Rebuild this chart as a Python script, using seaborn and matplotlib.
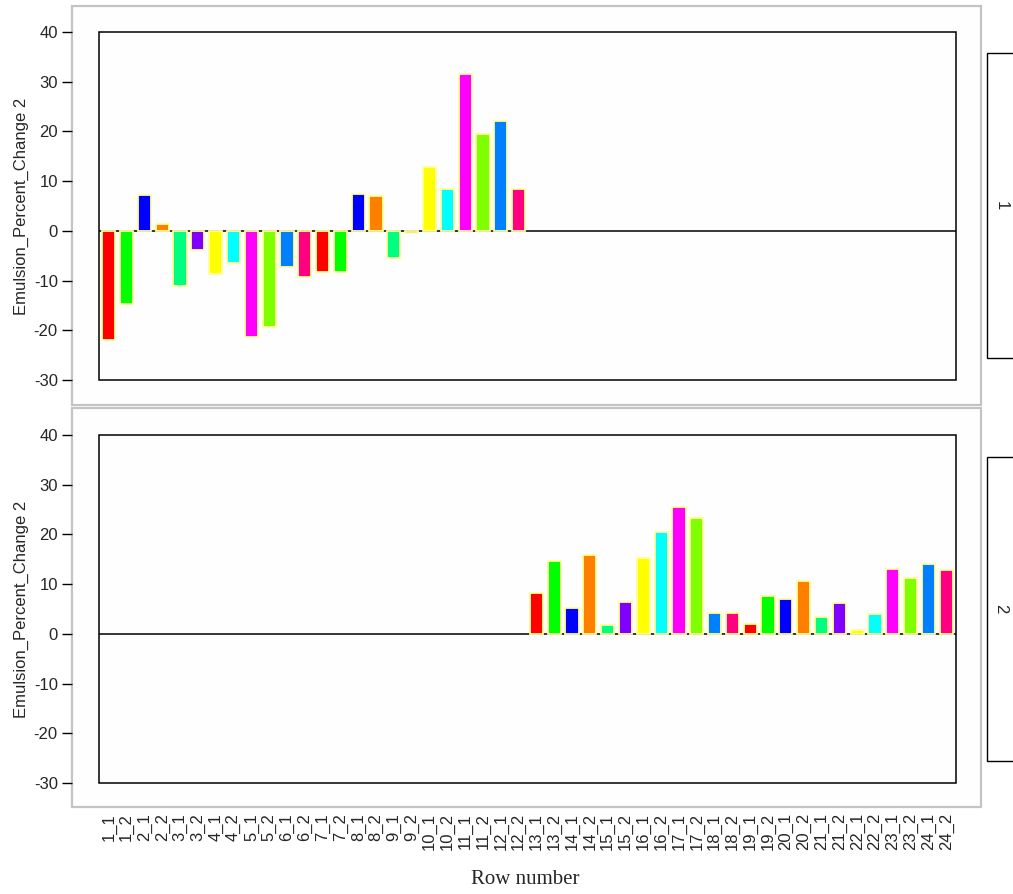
import matplotlib
matplotlib.use("Agg")
import matplotlib.pyplot as plt
from matplotlib.patches import Rectangle
import pandas as pd
import seaborn as sns

# row labels (x categories)
row_labels = [
    "1_1", "1_2", "2_1", "2_2", "3_1", "3_2", "4_1", "4_2", "5_1", "5_2", "6_1", "6_2",
    "7_1", "7_2", "8_1", "8_2", "9_1", "9_2", "10_1", "10_2", "11_1", "11_2", "12_1", "12_2",
    "13_1", "13_2", "14_1", "14_2", "15_1", "15_2", "16_1", "16_2", "17_1", "17_2", "18_1", "18_2",
    "19_1", "19_2", "20_1", "20_2", "21_1", "21_2", "22_1", "22_2", "23_1", "23_2", "24_1", "24_2",
]

# panel 1 -> rows 1..12, panel 2 -> rows 13..24
panel1_rows = row_labels[:24]
panel1_values = [-22.0, -14.7, 7.2, 1.4, -11.1, -3.8, -8.7, -6.5, -21.3, -19.4, -7.3, -9.3,
                 -8.3, -8.3, 7.4, 7.1, -5.4, -0.4, 12.9, 8.4, 31.6, 19.5, 22.1, 8.4]
panel2_rows = row_labels[24:]
panel2_values = [8.3, 14.7, 5.2, 15.8, 1.7, 6.4, 15.2, 20.5, 25.6, 23.3, 4.2, 4.2,
                 2.0, 7.7, 7.0, 10.7, 3.3, 6.2, 0.8, 4.0, 13.1, 11.2, 14.1, 12.8]

panel_names = ["1", "2"]
y_ticks = [-30, -20, -10, 0, 10, 20, 30, 40]

bar_colours = ["#FF0000", "#00FF00", "#0000FF", "#FF8000", "#00FF80", "#8000FF",
               "#FFFF00", "#00FFFF", "#FF00FF", "#80FF00", "#0080FF", "#FF0080"]

sns.set_style("white")
plt.rcParams["font.family"] = ["Liberation Sans", "DejaVu Sans"]

W, H = 1013, 894
fig = plt.figure(figsize=(W / 100, H / 100), dpi=100)

def fx(px):
    return px / W

def fy(py):
    return 1 - py / H

palette = {lab: bar_colours[i % len(bar_colours)] for i, lab in enumerate(row_labels)}

panels = [
    (panel1_rows, panel1_values, 32, 6, 405, 53, 358),
    (panel2_rows, panel2_values, 435, 408, 807, 457, 761),
]

axes = []
for k, (rows, vals, box_top, pan_top, pan_bot, strip_top, strip_bot) in enumerate(panels):
    # light gray panel behind the plot box
    fig.add_artist(Rectangle((fx(72), fy(pan_bot)), fx(981) - fx(72), fy(pan_top) - fy(pan_bot),
                             transform=fig.transFigure, facecolor="#fefefe",
                             edgecolor="#c4c4c4", linewidth=1.6, zorder=0))
    # strip box on the right
    fig.add_artist(Rectangle((fx(987), fy(strip_bot)), fx(1040) - fx(987), fy(strip_top) - fy(strip_bot),
                             transform=fig.transFigure, facecolor="white",
                             edgecolor="black", linewidth=1.0, zorder=1, clip_on=False))
    fig.text(fx(1001), fy((strip_top + strip_bot) / 2), panel_names[k], rotation=-90,
             ha="center", va="center", fontsize=12)

    ax = fig.add_axes([fx(99), fy(box_top + 348), fx(956) - fx(99), 348 / H])
    ax.set_facecolor("none")
    df = pd.DataFrame({"row": rows, "value": vals})
    sns.barplot(data=df, x="row", y="value", hue="row", order=row_labels,
                palette=palette, saturation=1, legend=False, width=0.74, ax=ax,
                edgecolor="#FFFF99", linewidth=1.3)
    ax.axhline(0, color="black", linewidth=1.1, zorder=0.5)
    ax.set_xlim(-0.55, 47.55)
    ax.set_ylim(-30, 40)
    for s in ax.spines.values():
        s.set_visible(False)
    ax.spines["left"].set_position(("outward", 19.5))
    ax.set_yticks(y_ticks)
    ax.set_yticklabels([str(t) for t in y_ticks])
    ax.set_ylabel("Emulsion_Percent_Change 2", fontsize=12, labelpad=3)
    ax.set_xlabel("")
    ax.tick_params(axis="y", direction="out", length=7.2, width=1.0, color="black",
                   pad=3, left=True, labelsize=12)
    ax.add_patch(Rectangle((0, 0), 1, 1, transform=ax.transAxes, fill=False,
                           edgecolor="black", linewidth=1.1, clip_on=False, zorder=3))
    axes.append(ax)

axes[0].tick_params(axis="x", bottom=False, labelbottom=False)
axes[1].set_xticks(range(len(row_labels)))
axes[1].set_xticklabels(row_labels, rotation=90, va="top", ha="center")
axes[1].tick_params(axis="x", bottom=False, length=0, pad=21.5, labelsize=12)

fig.text(fx(525), fy(880), "Row number", ha="center", va="center", fontsize=15,
         family=["Liberation Serif", "DejaVu Serif"])

fig.savefig("out.png", dpi=100)
